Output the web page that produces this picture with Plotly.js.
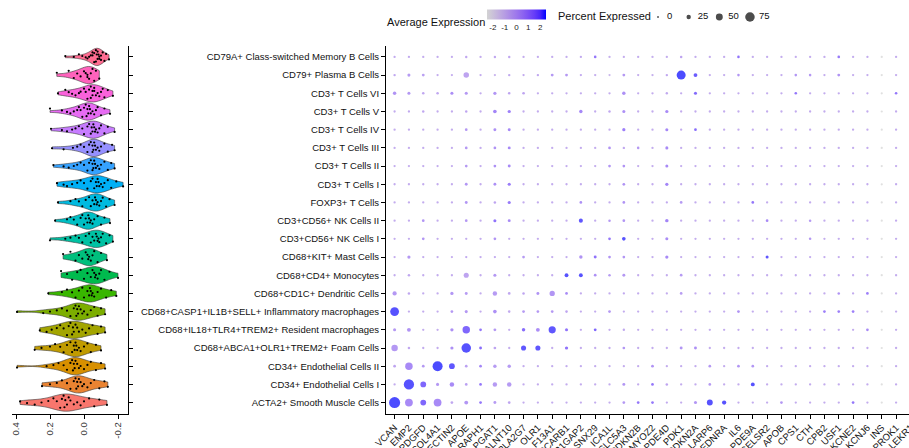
<!DOCTYPE html>
<html><head><meta charset="utf-8">
<script src="https://cdn.plot.ly/plotly-3.0.1.min.js"></script>
<style>html,body{margin:0;padding:0;overflow:hidden;background:#fff}#chart{width:919px;height:448px}</style>
</head><body><div id="chart"></div><script>
// ---------- categories ----------
const cellTypes = [
  "CD79A+ Class-switched Memory B Cells","CD79+ Plasma B Cells","CD3+ T Cells VI","CD3+ T Cells V",
  "CD3+ T Cells IV","CD3+ T Cells III","CD3+ T Cells II","CD3+ T Cells I","FOXP3+ T Cells",
  "CD3+CD56+ NK Cells II","CD3+CD56+ NK Cells I","CD68+KIT+ Mast Cells","CD68+CD4+ Monocytes",
  "CD68+CD1C+ Dendritic Cells","CD68+CASP1+IL1B+SELL+ Inflammatory macrophages",
  "CD68+IL18+TLR4+TREM2+ Resident macrophages","CD68+ABCA1+OLR1+TREM2+ Foam Cells",
  "CD34+ Endothelial Cells II","CD34+ Endothelial Cells I","ACTA2+ Smooth Muscle Cells"];
const genes = ["VCAN","EMP2","PDGFD","COL4A1","NECTIN2","APOE","RAPH1","LPGAT1","GALNT10","PLA2G7",
  "OLR1","F13A1","SCARB1","RAP1GAP2","SNX29","ICA1L","SLC5A3","CDKN2B","MYOZ2","PDE4D","PDK1",
  "CDKN2A","LARP6","EDNRA","IL6","PDE9A","CELSR2","APOB","CPS1","CTH","CPB2","USF1","KCNE2",
  "KCNJ6","INS","PROK1","LEKR1"];
const violinColors = ["#FF6C91","#FF62BC","#FA62DB","#E76BF3","#C77CFF","#9590FF","#35A2FF","#00B0F6",
  "#00BAE0","#00BFC4","#00C1A3","#00BF7D","#00BB4E","#39B600","#7CAE00","#A3A500","#C09B00",
  "#D89000","#EA8331","#F8766D"];
const scoreTicks = [0.4, 0.2, 0.0, -0.2];
const scoreTickText = ["0.4","0.2","0.0","-0.2"];
const colorTicks = [-2,-1,0,1,2];
const colorTickText = ["-2","-1","0","1","2"];
const legendPct = [0,25,50,75];

// ---------- module scores per cell (violins), estimated ----------
const moduleScores = [
 [0.11,0.06,0.03,0.01,-0.01,-0.02,-0.03,-0.04,-0.05,-0.05,-0.06,-0.06,-0.07,-0.07,-0.075,-0.08,-0.08,-0.085,-0.09,-0.09,-0.1,-0.1,-0.11,-0.12,-0.13,-0.147],
 [0.16,0.09,0.06,0.04,0.02,0.0,-0.01,-0.02,-0.02,-0.03,-0.04,-0.05,-0.06,-0.07,-0.09],
 [0.153,0.11,0.09,0.07,0.05,0.03,0.02,0.0,-0.01,-0.02,-0.03,-0.04,-0.04,-0.05,-0.05,-0.06,-0.06,-0.07,-0.08,-0.09,-0.1,-0.11,-0.12,-0.14,-0.17],
 [0.2,0.13,0.1,0.08,0.06,0.04,0.03,0.02,0.01,0.0,-0.01,-0.015,-0.02,-0.025,-0.03,-0.035,-0.04,-0.05,-0.06,-0.07,-0.08,-0.1,-0.12,-0.153],
 [0.194,0.13,0.1,0.07,0.05,0.03,0.01,0.0,-0.02,-0.03,-0.04,-0.045,-0.05,-0.055,-0.06,-0.065,-0.07,-0.08,-0.09,-0.1,-0.12,-0.14,-0.18],
 [0.188,0.12,0.065,0.04,0.02,0.0,-0.02,-0.03,-0.04,-0.05,-0.05,-0.055,-0.06,-0.065,-0.07,-0.08,-0.09,-0.1,-0.12,-0.14,-0.165,-0.18],
 [0.18,0.12,0.09,0.06,0.04,0.02,0.0,-0.02,-0.03,-0.04,-0.05,-0.05,-0.055,-0.06,-0.065,-0.07,-0.08,-0.09,-0.1,-0.12,-0.14,-0.16,-0.18],
 [0.159,0.12,0.1,0.07,0.04,0.02,0.0,-0.02,-0.04,-0.05,-0.06,-0.07,-0.075,-0.08,-0.085,-0.09,-0.1,-0.11,-0.12,-0.14,-0.16,-0.19,-0.23],
 [0.153,0.08,0.05,0.03,0.01,-0.01,-0.03,-0.04,-0.05,-0.06,-0.065,-0.07,-0.075,-0.08,-0.09,-0.1,-0.11,-0.13,-0.15,-0.18],
 [0.17,0.1,0.08,0.06,0.04,0.02,0.01,0.0,-0.01,-0.02,-0.025,-0.03,-0.035,-0.04,-0.05,-0.06,-0.08,-0.1,-0.12,-0.153],
 [0.2,0.11,0.08,0.05,0.03,0.01,-0.01,-0.03,-0.04,-0.05,-0.06,-0.07,-0.075,-0.08,-0.085,-0.09,-0.1,-0.11,-0.13,-0.15,-0.17],
 [0.123,0.08,0.05,0.03,0.01,-0.01,-0.02,-0.025,-0.03,-0.04,-0.05,-0.06,-0.08,-0.1,-0.135],
 [0.135,0.1,0.07,0.04,0.02,0.0,-0.02,-0.04,-0.05,-0.06,-0.065,-0.07,-0.08,-0.09,-0.1,-0.12,-0.15,-0.2],
 [0.21,0.13,0.1,0.07,0.05,0.03,0.01,0.0,-0.02,-0.03,-0.035,-0.04,-0.045,-0.05,-0.06,-0.08,-0.1,-0.13,-0.16,-0.19],
 [0.394,0.24,0.2,0.16,0.13,0.1,0.08,0.06,0.05,0.045,0.04,0.035,0.03,0.02,0.01,0.0,-0.02,-0.04,-0.06,-0.08,-0.1,-0.124],
 [0.26,0.22,0.19,0.16,0.14,0.12,0.1,0.09,0.08,0.07,0.065,0.06,0.05,0.04,0.03,0.01,-0.01,-0.03,-0.05,-0.08,-0.1,-0.124],
 [0.29,0.25,0.2,0.17,0.14,0.12,0.1,0.08,0.07,0.06,0.055,0.05,0.045,0.04,0.03,0.02,0.0,-0.02,-0.04,-0.07,-0.1],
 [0.394,0.22,0.18,0.15,0.12,0.1,0.08,0.07,0.065,0.06,0.055,0.05,0.04,0.03,0.02,0.0,-0.02,-0.04,-0.07,-0.1,-0.124],
 [0.247,0.2,0.16,0.13,0.1,0.08,0.06,0.05,0.045,0.04,0.035,0.03,0.02,0.01,0.0,-0.02,-0.04,-0.06,-0.09,-0.12,-0.14],
 [0.376,0.335,0.29,0.25,0.21,0.18,0.16,0.14,0.13,0.12,0.115,0.11,0.1,0.09,0.08,0.06,0.04,0.02,0.0,-0.03,-0.06,-0.09,-0.135]
];

// ---------- dot plot: percent expressed (rows = cellTypes, cols = genes) ----------
const pctExpressed = [
 [5,5,5,5,5,6,5,6,6,5,5,5,5,5,8,5,5,5,5,5,7,5,5,5,8,5,5,5,5,5,5,8,5,5,4,5,5],
 [6,12,10,5,5,36,5,4,6,5,6,10,10,5,5,4,10,5,5,6,70,20,5,5,8,5,5,5,8,8,5,10,5,5,4,5,5],
 [16,12,7,7,12,12,5,14,8,8,5,5,5,5,5,5,16,5,5,6,5,12,5,5,5,5,5,5,8,5,5,5,5,5,4,8,5],
 [5,5,6,5,5,6,5,18,14,5,5,5,5,16,5,6,12,5,5,14,5,5,5,5,5,5,5,5,5,5,5,5,5,5,4,5,5],
 [5,5,5,5,5,9,5,11,11,5,5,5,5,5,5,5,14,5,5,12,5,9,5,5,5,5,5,5,5,5,5,5,5,5,4,5,5],
 [5,5,5,5,5,9,5,9,11,5,5,5,5,5,5,9,6,7,5,12,5,5,5,5,5,5,5,5,5,5,5,5,5,5,4,5,5],
 [5,5,5,5,5,9,5,9,11,5,5,5,5,5,5,9,9,5,5,12,5,5,5,5,5,5,5,5,5,5,5,5,5,5,4,5,5],
 [5,5,5,5,5,10,5,10,13,5,5,5,5,5,5,5,9,5,5,14,5,5,5,5,5,5,5,5,5,5,5,5,5,5,4,5,5],
 [5,5,5,5,5,10,5,7,13,5,5,5,5,9,5,5,9,5,5,5,9,5,5,5,5,9,5,5,5,5,5,5,5,5,4,5,5],
 [5,5,9,5,5,9,5,12,11,5,5,5,5,22,5,7,9,5,5,16,5,5,5,5,5,5,9,5,5,7,5,5,5,5,4,5,5],
 [5,5,9,5,5,5,5,9,5,5,5,5,5,5,5,9,18,5,5,12,5,5,5,5,5,5,5,5,5,7,5,5,5,5,4,5,5],
 [5,14,5,5,5,5,5,5,5,9,5,5,5,16,11,9,9,5,5,14,5,5,5,5,5,5,12,5,5,5,5,5,5,5,4,5,5],
 [5,7,5,5,5,32,5,12,5,5,5,5,20,20,9,7,11,5,5,5,9,5,5,5,5,5,5,5,5,5,5,5,5,5,4,5,5],
 [24,7,5,5,14,11,5,26,9,7,11,34,9,5,5,5,5,5,5,5,9,5,5,5,5,5,5,5,5,5,5,7,5,9,4,5,5],
 [68,5,5,5,9,12,5,18,7,9,9,9,7,5,5,9,5,5,5,5,5,5,5,5,9,5,5,5,5,5,9,9,9,5,4,5,5],
 [12,20,5,5,14,55,9,10,5,16,20,52,12,5,10,5,6,5,5,5,5,5,5,5,5,5,5,5,5,5,5,5,5,9,4,5,5],
 [45,7,5,5,14,75,10,9,5,32,32,5,14,5,5,5,9,5,5,5,11,11,5,5,5,5,5,5,5,5,5,5,5,5,4,5,5],
 [9,55,9,80,38,9,9,16,16,5,5,5,5,5,5,5,5,5,9,5,5,5,9,5,9,9,5,5,5,5,5,5,5,5,4,5,5],
 [5,82,38,12,26,9,9,26,26,5,5,5,5,5,5,5,11,5,9,7,5,5,9,5,5,20,5,5,5,5,5,5,5,5,4,5,5],
 [90,58,38,58,9,20,9,11,9,5,5,5,5,5,5,5,9,9,9,5,5,12,40,24,5,5,5,9,5,5,5,5,9,5,4,5,5]
];
// ---------- dot plot: scaled average expression ----------
const avgExpression = [
 [-0.4,-0.4,-0.5,-0.5,-0.5,-0.3,-0.5,-0.3,-0.3,-0.5,-0.5,-0.5,-0.5,-0.4,1.5,-0.6,-0.5,-0.5,-0.6,-0.5,-0.2,-0.5,-0.5,-0.5,1.6,-0.5,-0.5,-0.5,-0.5,-0.5,-0.5,1.4,-0.5,-0.5,-2.5,-0.5,-0.5],
 [-0.3,0.2,0.0,-0.5,-0.5,-0.2,-0.5,-0.7,-0.4,-0.4,-0.3,0.3,0.3,-0.4,-0.5,-0.9,0.3,-0.5,-0.6,-0.3,2.5,2.2,-0.5,-0.5,0.4,-0.5,-0.5,-0.5,0.4,0.3,-0.5,0.5,-0.5,-0.5,-2.5,-0.5,-0.5],
 [0.5,0.3,-0.3,-0.3,0.7,0.3,-0.5,0.4,-0.2,-0.2,-0.5,-0.5,-0.5,-0.5,-0.5,-0.5,0.6,-0.5,-0.5,-0.4,-0.5,1.9,-0.5,-0.5,-0.5,-0.5,-0.5,-0.5,1.5,-0.5,-0.5,-0.5,-0.5,-0.5,-2.5,1.5,-0.5],
 [-0.5,-0.4,-0.3,-0.5,-0.5,-0.2,-0.5,1.0,1.2,-0.5,-0.5,-0.5,-0.5,0.9,-0.5,-0.3,0.6,-0.5,-0.5,0.8,-0.5,-0.5,-0.5,-0.5,-0.5,-0.5,-0.5,-0.5,-0.5,-0.5,-0.5,-0.5,-0.5,-0.5,-2.5,-0.5,-0.5],
 [-0.5,-0.5,-0.5,-0.5,-0.5,0.3,-0.5,0.6,0.9,-0.5,-0.5,-0.5,-0.5,-0.5,-0.5,-0.5,1.2,-0.5,-0.5,0.9,-0.5,1.8,-0.5,-0.5,-0.5,-0.5,-0.5,-0.5,-0.5,-0.5,-0.5,-0.5,-0.5,-0.5,-2.5,-0.5,-0.5],
 [-0.5,-0.5,-0.5,-0.5,-0.5,0.3,-0.5,0.5,0.9,-0.5,-0.5,-0.5,-0.5,-0.5,-0.5,0.5,-0.4,0.3,-0.5,0.8,-0.5,-0.5,-0.5,-0.5,-0.5,-0.5,-0.5,-0.5,-0.5,-0.5,-0.5,-0.5,-0.5,-0.5,-2.5,-0.5,-0.5],
 [-0.5,-0.5,-0.5,-0.5,-0.5,0.3,-0.5,0.6,0.8,-0.5,-0.5,-0.5,-0.5,-0.5,-0.5,0.4,0.5,-0.5,-0.5,0.8,-0.5,-0.5,-0.5,-0.5,-0.5,-0.5,-0.5,-0.5,-0.5,-0.5,-0.5,-0.5,-0.5,-0.5,-2.5,-0.5,-0.5],
 [-0.5,-0.5,-0.5,-0.5,-0.5,0.4,-0.5,0.6,1.3,-0.5,-0.5,-0.5,-0.5,-0.5,-0.5,-0.5,0.5,-0.5,-0.5,1.0,-0.5,-0.5,-0.5,-0.5,-0.5,-0.5,-0.5,-0.5,-0.5,-0.5,-0.5,-0.5,-0.5,-0.5,-2.5,-0.5,-0.5],
 [-0.5,-0.5,-0.5,-0.5,-0.5,0.4,-0.5,-0.2,1.4,-0.5,-0.5,-0.5,-0.5,0.6,-0.5,-0.5,0.5,-0.5,-0.5,-0.4,0.2,-0.5,-0.5,-0.5,-0.5,1.5,-0.5,-0.5,-0.5,-0.5,-0.5,-0.5,-0.5,-0.5,-2.5,-0.5,-0.5],
 [-0.5,-0.5,0.4,-0.5,-0.5,0.3,-0.5,1.6,0.8,-0.5,-0.5,-0.5,-0.5,2.3,-0.5,0.3,0.4,-0.5,-0.5,1.0,-0.5,-0.5,-0.5,-0.5,-0.5,-0.5,0.8,-0.5,-0.5,0.2,-0.5,-0.5,-0.5,-0.5,-2.5,-0.5,-0.5],
 [-0.5,-0.5,0.4,-0.5,-0.5,-0.5,-0.5,0.5,-0.5,-0.5,-0.5,-0.5,-0.5,-0.5,-0.5,1.5,2.4,-0.5,-0.5,0.7,-0.5,-0.5,-0.5,-0.5,-0.5,-0.5,-0.5,-0.5,-0.5,0.3,-0.5,-0.5,-0.5,-0.5,-2.5,-0.5,-0.5],
 [-0.5,0.3,-0.5,-0.5,-0.5,-0.4,-0.5,-0.4,-0.5,0.2,-0.5,-0.5,-0.5,0.5,1.6,0.5,0.4,-0.5,-0.5,0.8,-0.5,-0.5,-0.5,-0.5,-0.5,-0.5,2.3,-0.5,-0.5,-0.5,-0.5,-0.5,-0.5,-0.5,-2.5,-0.5,-0.5],
 [-0.5,-0.3,-0.5,-0.5,-0.5,-0.2,-0.5,0.3,-0.5,-0.5,-0.5,-0.5,2.4,2.4,0.6,0.2,0.3,-0.5,-0.5,-0.5,0.2,-0.5,-0.5,-0.5,-0.5,-0.5,-0.5,-0.5,-0.5,-0.5,-0.5,-0.5,-0.5,-0.5,-2.5,-0.5,-0.5],
 [0.3,-0.3,-0.5,-0.5,0.4,0.2,-0.5,0.2,-0.3,-0.2,0.5,0.4,0.8,-0.5,-0.5,-0.5,-0.4,-0.5,-0.5,-0.5,0.1,-0.5,-0.5,-0.5,-0.5,-0.5,-0.5,-0.5,-0.5,-0.5,-0.5,0.5,-0.5,1.2,-2.5,-0.5,-0.5],
 [2.4,-0.5,-0.5,-0.5,0.3,0.3,-0.5,0.6,-0.4,0.2,0.3,0.3,-0.2,-0.5,-0.5,0.3,-0.5,-0.5,-0.5,-0.5,-0.5,-0.5,-0.5,-0.5,0.5,-0.5,-0.5,-0.5,-0.5,-0.5,1.2,1.2,1.2,-0.5,-2.5,-0.5,-0.5],
 [0.3,0.5,-0.5,-0.5,0.6,2.0,1.5,0.3,-0.5,1.8,0.7,2.3,1.6,-0.5,2.0,-0.5,-0.4,-0.5,-0.5,-0.5,-0.5,-0.5,-0.5,-0.5,-0.5,-0.5,-0.5,-0.5,-0.5,-0.5,-0.5,-0.5,-0.5,0.8,-2.5,-0.5,-0.5],
 [0.3,-0.3,-0.5,-0.5,0.6,2.4,1.8,-0.2,-0.5,2.3,2.3,-0.5,1.6,-0.5,-0.5,-0.5,0.4,-0.5,-0.5,-0.5,0.4,0.6,-0.5,-0.5,-0.5,-0.5,-0.5,-0.5,-0.5,-0.5,-0.5,-0.5,-0.5,-0.5,-2.5,-0.5,-0.5],
 [-0.2,0.8,0.3,2.5,2.3,0.0,1.0,0.2,0.2,-0.5,-0.5,-0.5,-0.5,-0.5,-0.5,-0.5,-0.5,-0.5,0.5,-0.5,-0.5,-0.5,0.3,-0.5,0.4,0.4,-0.5,-0.5,-0.5,-0.5,-0.5,-0.5,-0.5,-0.5,-2.5,-0.5,-0.5],
 [-0.5,2.4,2.0,0.3,0.8,0.0,1.5,0.2,0.2,-0.5,-0.5,-0.5,-0.5,-0.5,-0.5,-0.5,0.4,-0.5,1.5,-0.2,-0.5,-0.5,0.2,-0.5,-0.5,2.4,-0.5,-0.5,-0.5,-0.5,-0.5,-0.5,-0.5,-0.5,-2.5,-0.5,-0.5],
 [2.5,0.8,2.0,0.8,-0.3,0.4,1.5,0.2,-0.2,-0.5,-0.5,-0.5,-0.5,-0.5,-0.5,-0.5,0.3,1.5,1.5,-0.4,-0.5,0.4,2.4,2.4,-0.5,-0.5,-0.5,0.3,-0.5,-0.5,-0.5,-0.5,1.5,-0.5,-2.5,-0.5,-0.5]
];

// ---------- styling helpers ----------
const W = 919, H = 448;
const px = v => v / W, py = v => 1 - v / H;
const lin = c => { c /= 255; return c <= 0.04045 ? c / 12.92 : Math.pow((c + 0.055) / 1.055, 2.4); };
const gam = c => { const v = c <= 0.0031308 ? 12.92 * c : 1.055 * Math.pow(Math.max(c,0), 1 / 2.4) - 0.055; return Math.round(Math.max(0, Math.min(1, v)) * 255); };
function toLab(hex) {
  const r = lin(parseInt(hex.slice(1,3),16)), g = lin(parseInt(hex.slice(3,5),16)), b = lin(parseInt(hex.slice(5,7),16));
  const X = (0.4124*r + 0.3576*g + 0.1805*b) / 0.95047, Y = 0.2126*r + 0.7152*g + 0.0722*b, Z = (0.0193*r + 0.1192*g + 0.9505*b) / 1.08883;
  const f = t => t > 0.008856 ? Math.cbrt(t) : 7.787*t + 16/116;
  const fx = f(X), fy = f(Y), fz = f(Z);
  return [116*fy - 16, 500*(fx - fy), 200*(fy - fz)];
}
function fromLab(L, a, bb) {
  const fy = (L + 16) / 116, fx = fy + a / 500, fz = fy - bb / 200;
  const fi = t => t*t*t > 0.008856 ? t*t*t : (t - 16/116) / 7.787;
  const X = fi(fx)*0.95047, Y = fi(fy), Z = fi(fz)*1.08883;
  const r = 3.2406*X - 1.5372*Y - 0.4986*Z, g = -0.9689*X + 1.8758*Y + 0.0415*Z, b = 0.0557*X - 0.2040*Y + 1.0570*Z;
  return `rgb(${gam(r)},${gam(g)},${gam(b)})`;
}
const lowLab = toLab("#D3D3D3"), highLab = toLab("#0000FF");
const colorscale = [];
for (let i = 0; i <= 10; i++) {
  const t = i / 10;
  colorscale.push([t, fromLab(lowLab[0] + (highLab[0]-lowLab[0])*t, lowLab[1] + (highLab[1]-lowLab[1])*t, lowLab[2] + (highLab[2]-lowLab[2])*t)]);
}
const dotSize = p => 1.8 + 0.103 * p;
const FONT = "Liberation Sans, Arial, Helvetica, sans-serif";

// ---------- traces ----------
const traces = [];
cellTypes.forEach((ct, i) => {
  traces.push({
    type: 'violin', orientation: 'h', x: moduleScores[i], y: moduleScores[i].map(() => ct),
    xaxis: 'x', yaxis: 'y', fillcolor: violinColors[i], opacity: 1,
    line: { color: '#3c3c3c', width: 0.6 }, points: 'all', pointpos: 0, jitter: 0.85,
    marker: { color: '#000', size: 2.2 }, spanmode: 'hard', width: 0.95, scalemode: 'width',
    box: { visible: false }, meanline: { visible: false }, hoverinfo: 'skip', showlegend: false
  });
});

const dx = [], dy = [], dc = [], ds = [];
cellTypes.forEach((ct, i) => genes.forEach((g, j) => {
  dx.push(g); dy.push(ct); dc.push(avgExpression[i][j]); ds.push(dotSize(pctExpressed[i][j]));
}));
traces.push({
  type: 'scatter', mode: 'markers', x: dx, y: dy, xaxis: 'x2', yaxis: 'y2', hoverinfo: 'skip', showlegend: false,
  marker: {
    size: ds, color: dc, colorscale: colorscale, cmin: -2.5, cmax: 2.5, line: { width: 0 },
    showscale: true,
    colorbar: {
      orientation: 'h', x: px(516.5), xanchor: 'center', y: py(19), yanchor: 'middle',
      len: 59, lenmode: 'pixels', thickness: 10, thicknessmode: 'pixels', xpad: 0, ypad: 0,
      outlinewidth: 0, tickvals: colorTicks, ticktext: colorTickText, ticks: '', ticklen: 0,
      tickfont: { family: FONT, size: 8, color: '#222' }
    }
  }
});
// size legend dots
traces.push({
  type: 'scatter', mode: 'markers', x: legendPct.map(String), y: legendPct.map(() => 0),
  xaxis: 'x3', yaxis: 'y3', hoverinfo: 'skip', showlegend: false,
  marker: { color: '#000', size: legendPct.map(dotSize), line: { width: 0 } }
});
// size legend labels (same categories on an axis offset to the right of the keys)
traces.push({
  type: 'scatter', mode: 'text', x: legendPct.map(String), y: legendPct.map(() => 0),
  text: legendPct.map(String), textposition: 'middle right',
  textfont: { family: FONT, size: 9.5, color: '#111' },
  xaxis: 'x4', yaxis: 'y3', hoverinfo: 'skip', showlegend: false, cliponaxis: false
});

const axisBase = { showline: true, linecolor: '#000', linewidth: 1, ticks: 'outside', ticklen: 4,
  tickcolor: '#000', tickwidth: 1, showgrid: false, zeroline: false, automargin: false, fixedrange: true };
const yDomain = [py(413.5), py(46)];

const annotations = [
  { text: 'Average Expression', xref: 'paper', yref: 'paper', x: px(385), y: py(22), xanchor: 'left', yanchor: 'middle',
    showarrow: false, font: { family: FONT, size: 11, color: '#111' } },
  { text: 'Percent Expressed', xref: 'paper', yref: 'paper', x: px(556), y: py(16), xanchor: 'left', yanchor: 'middle',
    showarrow: false, font: { family: FONT, size: 11, color: '#111' } }
];

const layout = {
  width: W, height: H, margin: { l: 0, r: 0, t: 0, b: 0 }, paper_bgcolor: '#fff', plot_bgcolor: 'rgba(0,0,0,0)',
  showlegend: false, hovermode: false, violinmode: 'overlay',
  font: { family: FONT, size: 9.5, color: '#111' },
  xaxis: Object.assign({}, axisBase, { domain: [px(12), px(128)], range: [0.4235, -0.2588], anchor: 'y',
    tickvals: scoreTicks, ticktext: scoreTickText, tickangle: -90, tickfont: { family: FONT, size: 9.5, color: '#333' } }),
  yaxis: Object.assign({}, axisBase, { domain: yDomain, type: 'category', categoryarray: cellTypes, categoryorder: 'array',
    range: [19.6, -0.6], anchor: 'x', side: 'right', showticklabels: false }),
  xaxis2: Object.assign({}, axisBase, { domain: [px(386), 1], type: 'category', categoryarray: genes, categoryorder: 'array',
    range: [-0.6, 36.6], anchor: 'y2', tickangle: -45, tickfont: { family: FONT, size: 9.5, color: '#111' } }),
  yaxis2: Object.assign({}, axisBase, { domain: yDomain, type: 'category', categoryarray: cellTypes, categoryorder: 'array',
    range: [19.6, -0.6], anchor: 'x2', tickfont: { family: FONT, size: 9.5, color: '#111' } }),
  xaxis3: { domain: [px(642.7), px(765.3)], type: 'category', range: [-0.5, 3.5], anchor: 'y3', visible: false, fixedrange: true },
  xaxis4: { domain: [px(651.7), px(774.3)], type: 'category', range: [-0.5, 3.5], anchor: 'y3', visible: false, fixedrange: true },
  yaxis3: { domain: [py(27), py(7)], range: [-1, 1], anchor: 'x3', visible: false, fixedrange: true },
  annotations: annotations
};

Plotly.newPlot('chart', traces, layout, { staticPlot: true, displayModeBar: false });
</script></body></html>
